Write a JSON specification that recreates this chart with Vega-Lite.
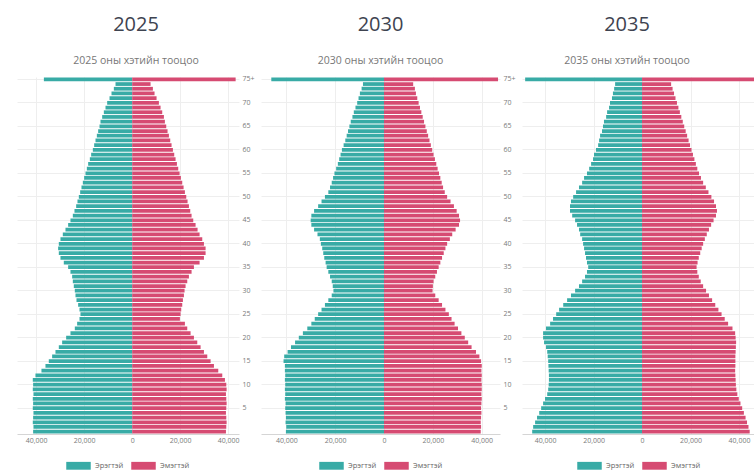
{
"$schema":"https://vega.github.io/schema/vega-lite/v6.json",
"padding":{"left":17,"top":14,"right":0,"bottom":0},
"background":"white",
"spacing":6,
"config":{
"view":{"stroke":null},
"font":"Open Sans",
"axis":{"labelFont":"Open Sans","labelColor":"#7a7a7a","labelFontSize":7,"gridColor":"#eeeeee","ticks":false,"domain":false,"title":null},
"legend":{"orient":"bottom","direction":"horizontal","title":null,"symbolType":"M-1,-0.32H1V0.32H-1Z","symbolSize":600,"symbolStrokeWidth":0,"symbolOpacity":1,"labelFont":"Open Sans","labelFontSize":7.5,"labelColor":"#666","labelOffset":4,"columnPadding":7,"offset":10,"layout":{"bottom":{"anchor":"middle"}}},
"title":{"font":"Open Sans","fontSize":20,"fontWeight":400,"color":"#3e4350","subtitleFont":"Open Sans","subtitleFontSize":10.5,"subtitleFontWeight":400,"subtitleColor":"#777","subtitlePadding":21,"offset":8,"frame":"group","anchor":"middle"}
},
"resolve":{"scale":{"x":"independent","y":"independent","color":"independent"},"legend":{"color":"independent"}},
"datasets":{
"d2025":[
{"age":75,"sex":"Эрэгтэй","pop":-36800},{"age":75,"sex":"Эмэгтэй","pop":43100},
{"age":74,"sex":"Эрэгтэй","pop":-6950},{"age":74,"sex":"Эмэгтэй","pop":7650},
{"age":73,"sex":"Эрэгтэй","pop":-7650},{"age":73,"sex":"Эмэгтэй","pop":8620},
{"age":72,"sex":"Эрэгтэй","pop":-8620},{"age":72,"sex":"Эмэгтэй","pop":9310},
{"age":71,"sex":"Эрэгтэй","pop":-9450},{"age":71,"sex":"Эмэгтэй","pop":10150},
{"age":70,"sex":"Эрэгтэй","pop":-10430},{"age":70,"sex":"Эмэгтэй","pop":11120},
{"age":69,"sex":"Эрэгтэй","pop":-11120},{"age":69,"sex":"Эмэгтэй","pop":11820},
{"age":68,"sex":"Эрэгтэй","pop":-11820},{"age":68,"sex":"Эмэгтэй","pop":12510},
{"age":67,"sex":"Эрэгтэй","pop":-12510},{"age":67,"sex":"Эмэгтэй","pop":13210},
{"age":66,"sex":"Эрэгтэй","pop":-13210},{"age":66,"sex":"Эмэгтэй","pop":13620},
{"age":65,"sex":"Эрэгтэй","pop":-13620},{"age":65,"sex":"Эмэгтэй","pop":14180},
{"age":64,"sex":"Эрэгтэй","pop":-14180},{"age":64,"sex":"Эмэгтэй","pop":14730},
{"age":63,"sex":"Эрэгтэй","pop":-14730},{"age":63,"sex":"Эмэгтэй","pop":15290},
{"age":62,"sex":"Эрэгтэй","pop":-15290},{"age":62,"sex":"Эмэгтэй","pop":15850},
{"age":61,"sex":"Эрэгтэй","pop":-15850},{"age":61,"sex":"Эмэгтэй","pop":16400},
{"age":60,"sex":"Эрэгтэй","pop":-16400},{"age":60,"sex":"Эмэгтэй","pop":16960},
{"age":59,"sex":"Эрэгтэй","pop":-17100},{"age":59,"sex":"Эмэгтэй","pop":17510},
{"age":58,"sex":"Эрэгтэй","pop":-17650},{"age":58,"sex":"Эмэгтэй","pop":18070},
{"age":57,"sex":"Эрэгтэй","pop":-18350},{"age":57,"sex":"Эмэгтэй","pop":18630},
{"age":56,"sex":"Эрэгтэй","pop":-18900},{"age":56,"sex":"Эмэгтэй","pop":19180},
{"age":55,"sex":"Эрэгтэй","pop":-19460},{"age":55,"sex":"Эмэгтэй","pop":19740},
{"age":54,"sex":"Эрэгтэй","pop":-20020},{"age":54,"sex":"Эмэгтэй","pop":20290},
{"age":53,"sex":"Эрэгтэй","pop":-20570},{"age":53,"sex":"Эмэгтэй","pop":20850},
{"age":52,"sex":"Эрэгтэй","pop":-21130},{"age":52,"sex":"Эмэгтэй","pop":21410},
{"age":51,"sex":"Эрэгтэй","pop":-21680},{"age":51,"sex":"Эмэгтэй","pop":21960},
{"age":50,"sex":"Эрэгтэй","pop":-22240},{"age":50,"sex":"Эмэгтэй","pop":22520},
{"age":49,"sex":"Эрэгтэй","pop":-22800},{"age":49,"sex":"Эмэгтэй","pop":23070},
{"age":48,"sex":"Эрэгтэй","pop":-23350},{"age":48,"sex":"Эмэгтэй","pop":23630},
{"age":47,"sex":"Эрэгтэй","pop":-24050},{"age":47,"sex":"Эмэгтэй","pop":24190},
{"age":46,"sex":"Эрэгтэй","pop":-24740},{"age":46,"sex":"Эмэгтэй","pop":24740},
{"age":45,"sex":"Эрэгтэй","pop":-25720},{"age":45,"sex":"Эмэгтэй","pop":25440},
{"age":44,"sex":"Эрэгтэй","pop":-26690},{"age":44,"sex":"Эмэгтэй","pop":26410},
{"age":43,"sex":"Эрэгтэй","pop":-27800},{"age":43,"sex":"Эмэгтэй","pop":27240},
{"age":42,"sex":"Эрэгтэй","pop":-28910},{"age":42,"sex":"Эмэгтэй","pop":28080},
{"age":41,"sex":"Эрэгтэй","pop":-29890},{"age":41,"sex":"Эмэгтэй","pop":29190},
{"age":40,"sex":"Эрэгтэй","pop":-30580},{"age":40,"sex":"Эмэгтэй","pop":29890},
{"age":39,"sex":"Эрэгтэй","pop":-30860},{"age":39,"sex":"Эмэгтэй","pop":30580},
{"age":38,"sex":"Эрэгтэй","pop":-30580},{"age":38,"sex":"Эмэгтэй","pop":30580},
{"age":37,"sex":"Эрэгтэй","pop":-29890},{"age":37,"sex":"Эмэгтэй","pop":29890},
{"age":36,"sex":"Эрэгтэй","pop":-28500},{"age":36,"sex":"Эмэгтэй","pop":28080},
{"age":35,"sex":"Эрэгтэй","pop":-26690},{"age":35,"sex":"Эмэгтэй","pop":25720},
{"age":34,"sex":"Эрэгтэй","pop":-25720},{"age":34,"sex":"Эмэгтэй","pop":24740},
{"age":33,"sex":"Эрэгтэй","pop":-25020},{"age":33,"sex":"Эмэгтэй","pop":23630},
{"age":32,"sex":"Эрэгтэй","pop":-24740},{"age":32,"sex":"Эмэгтэй","pop":22940},
{"age":31,"sex":"Эрэгтэй","pop":-24330},{"age":31,"sex":"Эмэгтэй","pop":22240},
{"age":30,"sex":"Эрэгтэй","pop":-23910},{"age":30,"sex":"Эмэгтэй","pop":21820},
{"age":29,"sex":"Эрэгтэй","pop":-23630},{"age":29,"sex":"Эмэгтэй","pop":21550},
{"age":28,"sex":"Эрэгтэй","pop":-23210},{"age":28,"sex":"Эмэгтэй","pop":21130},
{"age":27,"sex":"Эрэгтэй","pop":-22520},{"age":27,"sex":"Эмэгтэй","pop":20850},
{"age":26,"sex":"Эрэгтэй","pop":-21960},{"age":26,"sex":"Эмэгтэй","pop":20430},
{"age":25,"sex":"Эрэгтэй","pop":-21550},{"age":25,"sex":"Эмэгтэй","pop":20160},
{"age":24,"sex":"Эрэгтэй","pop":-21960},{"age":24,"sex":"Эмэгтэй","pop":19880},
{"age":23,"sex":"Эрэгтэй","pop":-22940},{"age":23,"sex":"Эмэгтэй","pop":21960},
{"age":22,"sex":"Эрэгтэй","pop":-23910},{"age":22,"sex":"Эмэгтэй","pop":22940},
{"age":21,"sex":"Эрэгтэй","pop":-25720},{"age":21,"sex":"Эмэгтэй","pop":24330},
{"age":20,"sex":"Эрэгтэй","pop":-27520},{"age":20,"sex":"Эмэгтэй","pop":25720},
{"age":19,"sex":"Эрэгтэй","pop":-29190},{"age":19,"sex":"Эмэгтэй","pop":27110},
{"age":18,"sex":"Эрэгтэй","pop":-30580},{"age":18,"sex":"Эмэгтэй","pop":28500},
{"age":17,"sex":"Эрэгтэй","pop":-31970},{"age":17,"sex":"Эмэгтэй","pop":29890},
{"age":16,"sex":"Эрэгтэй","pop":-33360},{"age":16,"sex":"Эмэгтэй","pop":31280},
{"age":15,"sex":"Эрэгтэй","pop":-34750},{"age":15,"sex":"Эмэгтэй","pop":32670},
{"age":14,"sex":"Эрэгтэй","pop":-36140},{"age":14,"sex":"Эмэгтэй","pop":34060},
{"age":13,"sex":"Эрэгтэй","pop":-37810},{"age":13,"sex":"Эмэгтэй","pop":35860},
{"age":12,"sex":"Эрэгтэй","pop":-40310},{"age":12,"sex":"Эмэгтэй","pop":37530},
{"age":11,"sex":"Эрэгтэй","pop":-41420},{"age":11,"sex":"Эмэгтэй","pop":38640},
{"age":10,"sex":"Эрэгтэй","pop":-41280},{"age":10,"sex":"Эмэгтэй","pop":39200},
{"age":9,"sex":"Эрэгтэй","pop":-41420},{"age":9,"sex":"Эмэгтэй","pop":39340},
{"age":8,"sex":"Эрэгтэй","pop":-41140},{"age":8,"sex":"Эмэгтэй","pop":39060},
{"age":7,"sex":"Эрэгтэй","pop":-41420},{"age":7,"sex":"Эмэгтэй","pop":39200},
{"age":6,"sex":"Эрэгтэй","pop":-41280},{"age":6,"sex":"Эмэгтэй","pop":39340},
{"age":5,"sex":"Эрэгтэй","pop":-41420},{"age":5,"sex":"Эмэгтэй","pop":39200},
{"age":4,"sex":"Эрэгтэй","pop":-41140},{"age":4,"sex":"Эмэгтэй","pop":39060},
{"age":3,"sex":"Эрэгтэй","pop":-41280},{"age":3,"sex":"Эмэгтэй","pop":39200},
{"age":2,"sex":"Эрэгтэй","pop":-41420},{"age":2,"sex":"Эмэгтэй","pop":39340},
{"age":1,"sex":"Эрэгтэй","pop":-41140},{"age":1,"sex":"Эмэгтэй","pop":39200},
{"age":0,"sex":"Эрэгтэй","pop":-41280},{"age":0,"sex":"Эмэгтэй","pop":39060}
],
"d2030":[
{"age":75,"sex":"Эрэгтэй","pop":-46150},{"age":75,"sex":"Эмэгтэй","pop":46700},
{"age":74,"sex":"Эрэгтэй","pop":-8620},{"age":74,"sex":"Эмэгтэй","pop":11950},
{"age":73,"sex":"Эрэгтэй","pop":-9170},{"age":73,"sex":"Эмэгтэй","pop":12650},
{"age":72,"sex":"Эрэгтэй","pop":-9870},{"age":72,"sex":"Эмэгтэй","pop":13070},
{"age":71,"sex":"Эрэгтэй","pop":-10430},{"age":71,"sex":"Эмэгтэй","pop":13620},
{"age":70,"sex":"Эрэгтэй","pop":-10980},{"age":70,"sex":"Эмэгтэй","pop":14180},
{"age":69,"sex":"Эрэгтэй","pop":-11680},{"age":69,"sex":"Эмэгтэй","pop":14730},
{"age":68,"sex":"Эрэгтэй","pop":-12370},{"age":68,"sex":"Эмэгтэй","pop":15290},
{"age":67,"sex":"Эрэгтэй","pop":-12930},{"age":67,"sex":"Эмэгтэй","pop":15850},
{"age":66,"sex":"Эрэгтэй","pop":-13620},{"age":66,"sex":"Эмэгтэй","pop":16400},
{"age":65,"sex":"Эрэгтэй","pop":-14180},{"age":65,"sex":"Эмэгтэй","pop":16960},
{"age":64,"sex":"Эрэгтэй","pop":-14730},{"age":64,"sex":"Эмэгтэй","pop":17510},
{"age":63,"sex":"Эрэгтэй","pop":-15290},{"age":63,"sex":"Эмэгтэй","pop":18070},
{"age":62,"sex":"Эрэгтэй","pop":-15850},{"age":62,"sex":"Эмэгтэй","pop":18630},
{"age":61,"sex":"Эрэгтэй","pop":-16540},{"age":61,"sex":"Эмэгтэй","pop":19180},
{"age":60,"sex":"Эрэгтэй","pop":-17240},{"age":60,"sex":"Эмэгтэй","pop":19740},
{"age":59,"sex":"Эрэгтэй","pop":-17790},{"age":59,"sex":"Эмэгтэй","pop":20290},
{"age":58,"sex":"Эрэгтэй","pop":-18350},{"age":58,"sex":"Эмэгтэй","pop":20850},
{"age":57,"sex":"Эрэгтэй","pop":-18900},{"age":57,"sex":"Эмэгтэй","pop":21410},
{"age":56,"sex":"Эрэгтэй","pop":-19600},{"age":56,"sex":"Эмэгтэй","pop":21960},
{"age":55,"sex":"Эрэгтэй","pop":-20290},{"age":55,"sex":"Эмэгтэй","pop":22520},
{"age":54,"sex":"Эрэгтэй","pop":-20850},{"age":54,"sex":"Эмэгтэй","pop":23070},
{"age":53,"sex":"Эрэгтэй","pop":-21410},{"age":53,"sex":"Эмэгтэй","pop":23630},
{"age":52,"sex":"Эрэгтэй","pop":-22100},{"age":52,"sex":"Эмэгтэй","pop":24190},
{"age":51,"sex":"Эрэгтэй","pop":-22800},{"age":51,"sex":"Эмэгтэй","pop":24880},
{"age":50,"sex":"Эрэгтэй","pop":-24190},{"age":50,"sex":"Эмэгтэй","pop":25850},
{"age":49,"sex":"Эрэгтэй","pop":-25580},{"age":49,"sex":"Эмэгтэй","pop":27240},
{"age":48,"sex":"Эрэгтэй","pop":-26970},{"age":48,"sex":"Эмэгтэй","pop":28630},
{"age":47,"sex":"Эрэгтэй","pop":-28630},{"age":47,"sex":"Эмэгтэй","pop":29750},
{"age":46,"sex":"Эрэгтэй","pop":-29750},{"age":46,"sex":"Эмэгтэй","pop":30720},
{"age":45,"sex":"Эрэгтэй","pop":-30020},{"age":45,"sex":"Эмэгтэй","pop":31140},
{"age":44,"sex":"Эрэгтэй","pop":-29750},{"age":44,"sex":"Эмэгтэй","pop":30720},
{"age":43,"sex":"Эрэгтэй","pop":-28630},{"age":43,"sex":"Эмэгтэй","pop":29330},
{"age":42,"sex":"Эрэгтэй","pop":-27240},{"age":42,"sex":"Эмэгтэй","pop":27940},
{"age":41,"sex":"Эрэгтэй","pop":-26270},{"age":41,"sex":"Эмэгтэй","pop":26970},
{"age":40,"sex":"Эрэгтэй","pop":-25850},{"age":40,"sex":"Эмэгтэй","pop":25850},
{"age":39,"sex":"Эрэгтэй","pop":-25300},{"age":39,"sex":"Эмэгтэй","pop":25160},
{"age":38,"sex":"Эрэгтэй","pop":-24880},{"age":38,"sex":"Эмэгтэй","pop":24460},
{"age":37,"sex":"Эрэгтэй","pop":-24460},{"age":37,"sex":"Эмэгтэй","pop":23770},
{"age":36,"sex":"Эрэгтэй","pop":-23910},{"age":36,"sex":"Эмэгтэй","pop":23070},
{"age":35,"sex":"Эрэгтэй","pop":-23490},{"age":35,"sex":"Эмэгтэй","pop":22380},
{"age":34,"sex":"Эрэгтэй","pop":-22800},{"age":34,"sex":"Эмэгтэй","pop":21680},
{"age":33,"sex":"Эрэгтэй","pop":-22100},{"age":33,"sex":"Эмэгтэй","pop":20990},
{"age":32,"sex":"Эрэгтэй","pop":-21410},{"age":32,"sex":"Эмэгтэй","pop":20290},
{"age":31,"sex":"Эрэгтэй","pop":-20990},{"age":31,"sex":"Эмэгтэй","pop":20020},
{"age":30,"sex":"Эрэгтэй","pop":-20710},{"age":30,"sex":"Эмэгтэй","pop":19880},
{"age":29,"sex":"Эрэгтэй","pop":-21410},{"age":29,"sex":"Эмэгтэй","pop":20990},
{"age":28,"sex":"Эрэгтэй","pop":-22800},{"age":28,"sex":"Эмэгтэй","pop":22380},
{"age":27,"sex":"Эрэгтэй","pop":-24190},{"age":27,"sex":"Эмэгтэй","pop":23770},
{"age":26,"sex":"Эрэгтэй","pop":-25580},{"age":26,"sex":"Эмэгтэй","pop":25160},
{"age":25,"sex":"Эрэгтэй","pop":-26970},{"age":25,"sex":"Эмэгтэй","pop":26550},
{"age":24,"sex":"Эрэгтэй","pop":-28360},{"age":24,"sex":"Эмэгтэй","pop":27660},
{"age":23,"sex":"Эрэгтэй","pop":-29750},{"age":23,"sex":"Эмэгтэй","pop":28910},
{"age":22,"sex":"Эрэгтэй","pop":-31410},{"age":22,"sex":"Эмэгтэй","pop":30300},
{"age":21,"sex":"Эрэгтэй","pop":-33220},{"age":21,"sex":"Эмэгтэй","pop":31690},
{"age":20,"sex":"Эрэгтэй","pop":-34890},{"age":20,"sex":"Эмэгтэй","pop":33080},
{"age":19,"sex":"Эрэгтэй","pop":-36420},{"age":19,"sex":"Эмэгтэй","pop":34470},
{"age":18,"sex":"Эрэгтэй","pop":-38090},{"age":18,"sex":"Эмэгтэй","pop":35860},
{"age":17,"sex":"Эрэгтэй","pop":-39480},{"age":17,"sex":"Эмэгтэй","pop":37670},
{"age":16,"sex":"Эрэгтэй","pop":-40870},{"age":16,"sex":"Эмэгтэй","pop":39060},
{"age":15,"sex":"Эрэгтэй","pop":-41140},{"age":15,"sex":"Эмэгтэй","pop":39750},
{"age":14,"sex":"Эрэгтэй","pop":-40590},{"age":14,"sex":"Эмэгтэй","pop":40030},
{"age":13,"sex":"Эрэгтэй","pop":-40590},{"age":13,"sex":"Эмэгтэй","pop":39890},
{"age":12,"sex":"Эрэгтэй","pop":-40450},{"age":12,"sex":"Эмэгтэй","pop":40030},
{"age":11,"sex":"Эрэгтэй","pop":-40590},{"age":11,"sex":"Эмэгтэй","pop":39890},
{"age":10,"sex":"Эрэгтэй","pop":-40450},{"age":10,"sex":"Эмэгтэй","pop":40030},
{"age":9,"sex":"Эрэгтэй","pop":-40590},{"age":9,"sex":"Эмэгтэй","pop":40030},
{"age":8,"sex":"Эрэгтэй","pop":-40450},{"age":8,"sex":"Эмэгтэй","pop":39890},
{"age":7,"sex":"Эрэгтэй","pop":-40590},{"age":7,"sex":"Эмэгтэй","pop":40030},
{"age":6,"sex":"Эрэгтэй","pop":-40310},{"age":6,"sex":"Эмэгтэй","pop":39890},
{"age":5,"sex":"Эрэгтэй","pop":-40450},{"age":5,"sex":"Эмэгтэй","pop":39750},
{"age":4,"sex":"Эрэгтэй","pop":-40310},{"age":4,"sex":"Эмэгтэй","pop":39890},
{"age":3,"sex":"Эрэгтэй","pop":-40170},{"age":3,"sex":"Эмэгтэй","pop":39750},
{"age":2,"sex":"Эрэгтэй","pop":-40310},{"age":2,"sex":"Эмэгтэй","pop":39610},
{"age":1,"sex":"Эрэгтэй","pop":-40030},{"age":1,"sex":"Эмэгтэй","pop":39750},
{"age":0,"sex":"Эрэгтэй","pop":-40170},{"age":0,"sex":"Эмэгтэй","pop":39610}
],
"d2035":[
{"age":75,"sex":"Эрэгтэй","pop":-48200},{"age":75,"sex":"Эмэгтэй","pop":48500},
{"age":74,"sex":"Эрэгтэй","pop":-11100},{"age":74,"sex":"Эмэгтэй","pop":12000},
{"age":73,"sex":"Эрэгтэй","pop":-11500},{"age":73,"sex":"Эмэгтэй","pop":12600},
{"age":72,"sex":"Эрэгтэй","pop":-12000},{"age":72,"sex":"Эмэгтэй","pop":13200},
{"age":71,"sex":"Эрэгтэй","pop":-12400},{"age":71,"sex":"Эмэгтэй","pop":13800},
{"age":70,"sex":"Эрэгтэй","pop":-13200},{"age":70,"sex":"Эмэгтэй","pop":14400},
{"age":69,"sex":"Эрэгтэй","pop":-13600},{"age":69,"sex":"Эмэгтэй","pop":15000},
{"age":68,"sex":"Эрэгтэй","pop":-14400},{"age":68,"sex":"Эмэгтэй","pop":15600},
{"age":67,"sex":"Эрэгтэй","pop":-14800},{"age":67,"sex":"Эмэгтэй","pop":16200},
{"age":66,"sex":"Эрэгтэй","pop":-15700},{"age":66,"sex":"Эмэгтэй","pop":16800},
{"age":65,"sex":"Эрэгтэй","pop":-16100},{"age":65,"sex":"Эмэгтэй","pop":17400},
{"age":64,"sex":"Эрэгтэй","pop":-16500},{"age":64,"sex":"Эмэгтэй","pop":18000},
{"age":63,"sex":"Эрэгтэй","pop":-17300},{"age":63,"sex":"Эмэгтэй","pop":18600},
{"age":62,"sex":"Эрэгтэй","pop":-17700},{"age":62,"sex":"Эмэгтэй","pop":19200},
{"age":61,"sex":"Эрэгтэй","pop":-18100},{"age":61,"sex":"Эмэгтэй","pop":19800},
{"age":60,"sex":"Эрэгтэй","pop":-19000},{"age":60,"sex":"Эмэгтэй","pop":20400},
{"age":59,"sex":"Эрэгтэй","pop":-19800},{"age":59,"sex":"Эмэгтэй","pop":21000},
{"age":58,"sex":"Эрэгтэй","pop":-20200},{"age":58,"sex":"Эмэгтэй","pop":21600},
{"age":57,"sex":"Эрэгтэй","pop":-21000},{"age":57,"sex":"Эмэгтэй","pop":22200},
{"age":56,"sex":"Эрэгтэй","pop":-21800},{"age":56,"sex":"Эмэгтэй","pop":22800},
{"age":55,"sex":"Эрэгтэй","pop":-22700},{"age":55,"sex":"Эмэгтэй","pop":23500},
{"age":54,"sex":"Эрэгтэй","pop":-23900},{"age":54,"sex":"Эмэгтэй","pop":24300},
{"age":53,"sex":"Эрэгтэй","pop":-24700},{"age":53,"sex":"Эмэгтэй","pop":25200},
{"age":52,"sex":"Эрэгтэй","pop":-26000},{"age":52,"sex":"Эмэгтэй","pop":26300},
{"age":51,"sex":"Эрэгтэй","pop":-27200},{"age":51,"sex":"Эмэгтэй","pop":27400},
{"age":50,"sex":"Эрэгтэй","pop":-28400},{"age":50,"sex":"Эмэгтэй","pop":28600},
{"age":49,"sex":"Эрэгтэй","pop":-29300},{"age":49,"sex":"Эмэгтэй","pop":29700},
{"age":48,"sex":"Эрэгтэй","pop":-29700},{"age":48,"sex":"Эмэгтэй","pop":30500},
{"age":47,"sex":"Эрэгтэй","pop":-29700},{"age":47,"sex":"Эмэгтэй","pop":30900},
{"age":46,"sex":"Эрэгтэй","pop":-28800},{"age":46,"sex":"Эмэгтэй","pop":30500},
{"age":45,"sex":"Эрэгтэй","pop":-27600},{"age":45,"sex":"Эмэгтэй","pop":29500},
{"age":44,"sex":"Эрэгтэй","pop":-26800},{"age":44,"sex":"Эмэгтэй","pop":28500},
{"age":43,"sex":"Эрэгтэй","pop":-26000},{"age":43,"sex":"Эмэгтэй","pop":27600},
{"age":42,"sex":"Эрэгтэй","pop":-25500},{"age":42,"sex":"Эмэгтэй","pop":26700},
{"age":41,"sex":"Эрэгтэй","pop":-24700},{"age":41,"sex":"Эмэгтэй","pop":25900},
{"age":40,"sex":"Эрэгтэй","pop":-24300},{"age":40,"sex":"Эмэгтэй","pop":25200},
{"age":39,"sex":"Эрэгтэй","pop":-23900},{"age":39,"sex":"Эмэгтэй","pop":24600},
{"age":38,"sex":"Эрэгтэй","pop":-23500},{"age":38,"sex":"Эмэгтэй","pop":24000},
{"age":37,"sex":"Эрэгтэй","pop":-23100},{"age":37,"sex":"Эмэгтэй","pop":23400},
{"age":36,"sex":"Эрэгтэй","pop":-22700},{"age":36,"sex":"Эмэгтэй","pop":22900},
{"age":35,"sex":"Эрэгтэй","pop":-22200},{"age":35,"sex":"Эмэгтэй","pop":22500},
{"age":34,"sex":"Эрэгтэй","pop":-22700},{"age":34,"sex":"Эмэгтэй","pop":22800},
{"age":33,"sex":"Эрэгтэй","pop":-23500},{"age":33,"sex":"Эмэгтэй","pop":23400},
{"age":32,"sex":"Эрэгтэй","pop":-24700},{"age":32,"sex":"Эмэгтэй","pop":24200},
{"age":31,"sex":"Эрэгтэй","pop":-26000},{"age":31,"sex":"Эмэгтэй","pop":25200},
{"age":30,"sex":"Эрэгтэй","pop":-27600},{"age":30,"sex":"Эмэгтэй","pop":26400},
{"age":29,"sex":"Эрэгтэй","pop":-29300},{"age":29,"sex":"Эмэгтэй","pop":27600},
{"age":28,"sex":"Эрэгтэй","pop":-30900},{"age":28,"sex":"Эмэгтэй","pop":28900},
{"age":27,"sex":"Эрэгтэй","pop":-32500},{"age":27,"sex":"Эмэгтэй","pop":30200},
{"age":26,"sex":"Эрэгтэй","pop":-34200},{"age":26,"sex":"Эмэгтэй","pop":31500},
{"age":25,"sex":"Эрэгтэй","pop":-35400},{"age":25,"sex":"Эмэгтэй","pop":32800},
{"age":24,"sex":"Эрэгтэй","pop":-36700},{"age":24,"sex":"Эмэгтэй","pop":34100},
{"age":23,"sex":"Эрэгтэй","pop":-37900},{"age":23,"sex":"Эмэгтэй","pop":35500},
{"age":22,"sex":"Эрэгтэй","pop":-39600},{"age":22,"sex":"Эмэгтэй","pop":37300},
{"age":21,"sex":"Эрэгтэй","pop":-40800},{"age":21,"sex":"Эмэгтэй","pop":38400},
{"age":20,"sex":"Эрэгтэй","pop":-40800},{"age":20,"sex":"Эмэгтэй","pop":38600},
{"age":19,"sex":"Эрэгтэй","pop":-40400},{"age":19,"sex":"Эмэгтэй","pop":38800},
{"age":18,"sex":"Эрэгтэй","pop":-39600},{"age":18,"sex":"Эмэгтэй","pop":38700},
{"age":17,"sex":"Эрэгтэй","pop":-39100},{"age":17,"sex":"Эмэгтэй","pop":38600},
{"age":16,"sex":"Эрэгтэй","pop":-38900},{"age":16,"sex":"Эмэгтэй","pop":38500},
{"age":15,"sex":"Эрэгтэй","pop":-38700},{"age":15,"sex":"Эмэгтэй","pop":38500},
{"age":14,"sex":"Эрэгтэй","pop":-38600},{"age":14,"sex":"Эмэгтэй","pop":38500},
{"age":13,"sex":"Эрэгтэй","pop":-38500},{"age":13,"sex":"Эмэгтэй","pop":38400},
{"age":12,"sex":"Эрэгтэй","pop":-38400},{"age":12,"sex":"Эмэгтэй","pop":38500},
{"age":11,"sex":"Эрэгтэй","pop":-38400},{"age":11,"sex":"Эмэгтэй","pop":38600},
{"age":10,"sex":"Эрэгтэй","pop":-38500},{"age":10,"sex":"Эмэгтэй","pop":38700},
{"age":9,"sex":"Эрэгтэй","pop":-38700},{"age":9,"sex":"Эмэгтэй","pop":38900},
{"age":8,"sex":"Эрэгтэй","pop":-39100},{"age":8,"sex":"Эмэгтэй","pop":39300},
{"age":7,"sex":"Эрэгтэй","pop":-40000},{"age":7,"sex":"Эмэгтэй","pop":39900},
{"age":6,"sex":"Эрэгтэй","pop":-40800},{"age":6,"sex":"Эмэгтэй","pop":40600},
{"age":5,"sex":"Эрэгтэй","pop":-41600},{"age":5,"sex":"Эмэгтэй","pop":41300},
{"age":4,"sex":"Эрэгтэй","pop":-42400},{"age":4,"sex":"Эмэгтэй","pop":42000},
{"age":3,"sex":"Эрэгтэй","pop":-43300},{"age":3,"sex":"Эмэгтэй","pop":42700},
{"age":2,"sex":"Эрэгтэй","pop":-44100},{"age":2,"sex":"Эмэгтэй","pop":43300},
{"age":1,"sex":"Эрэгтэй","pop":-44900},{"age":1,"sex":"Эмэгтэй","pop":43900},
{"age":0,"sex":"Эрэгтэй","pop":-45300},{"age":0,"sex":"Эмэгтэй","pop":44400}
]
},
"hconcat":[
{
"width":222,"height":357,
"data":{"name":"d2025"},
"title":{"text":"2025","subtitle":"2025 оны хэтийн тооцоо","dx":8,"fontWeight":400},
"mark":{"type":"bar","clip":true},
"encoding":{
"y":{"field":"age","type":"ordinal","sort":"descending","scale":{"paddingInner":0.2,"paddingOuter":0.1},
"axis":{"orient":"right","values":[75,70,65,60,55,50,45,40,35,30,25,20,15,10,5],"labelExpr":"datum.value == 75 ? '75+' : datum.label","grid":true,"bandPosition":0.5,"labelPadding":3}},
"x":{"field":"pop","type":"quantitative","scale":{"domain":[-48000,44500],"nice":false,"zero":false},
"axis":{"values":[-40000,-20000,0,20000,40000],"labelExpr":"format(abs(datum.value), ',')","grid":true,"domain":true,"domainColor":"#d5d5d5","labelPadding":2}},
"color":{"field":"sex","type":"nominal","scale":{"domain":["Эрэгтэй","Эмэгтэй"],"range":["#38aba6","#d64b72"]},"legend":{}}
}
},
{
"width":239,"height":357,
"data":{"name":"d2030"},
"title":{"text":"2030","subtitle":"2030 оны хэтийн тооцоо","dx":0,"fontWeight":400},
"mark":{"type":"bar","clip":true},
"encoding":{
"y":{"field":"age","type":"ordinal","sort":"descending","scale":{"paddingInner":0.2,"paddingOuter":0.1},
"axis":{"orient":"right","values":[75,70,65,60,55,50,45,40,35,30,25,20,15,10,5],"labelExpr":"datum.value == 75 ? '75+' : datum.label","grid":true,"bandPosition":0.5,"labelPadding":3}},
"x":{"field":"pop","type":"quantitative","scale":{"domain":[-50370,47500],"nice":false,"zero":false},
"axis":{"values":[-40000,-20000,0,20000,40000],"labelExpr":"format(abs(datum.value), ',')","grid":true,"domain":true,"domainColor":"#d5d5d5","labelPadding":2}},
"color":{"field":"sex","type":"nominal","scale":{"domain":["Эрэгтэй","Эмэгтэй"],"range":["#38aba6","#d64b72"]},"legend":{}}
}
},
{
"width":234,"height":357,
"data":{"name":"d2035"},
"title":{"text":"2035","subtitle":"2035 оны хэтийн тооцоо","dx":-12,"offset":11,"fontWeight":400},
"mark":{"type":"bar","clip":true},
"encoding":{
"y":{"field":"age","type":"ordinal","sort":"descending","scale":{"paddingInner":0.2,"paddingOuter":0.1},
"axis":{"orient":"left","values":[75,70,65,60,55,50,45,40,35,30,25,20,15,10,5],"labels":false,"grid":true,"bandPosition":0.5}},
"x":{"field":"pop","type":"quantitative","scale":{"domain":[-49500,47000],"nice":false,"zero":false},
"axis":{"values":[-40000,-20000,0,20000,40000],"labelExpr":"format(abs(datum.value), ',')","grid":true,"domain":true,"domainColor":"#d5d5d5","labelPadding":2}},
"color":{"field":"sex","type":"nominal","scale":{"domain":["Эрэгтэй","Эмэгтэй"],"range":["#38aba6","#d64b72"]},"legend":{}}
}
}
]
}
